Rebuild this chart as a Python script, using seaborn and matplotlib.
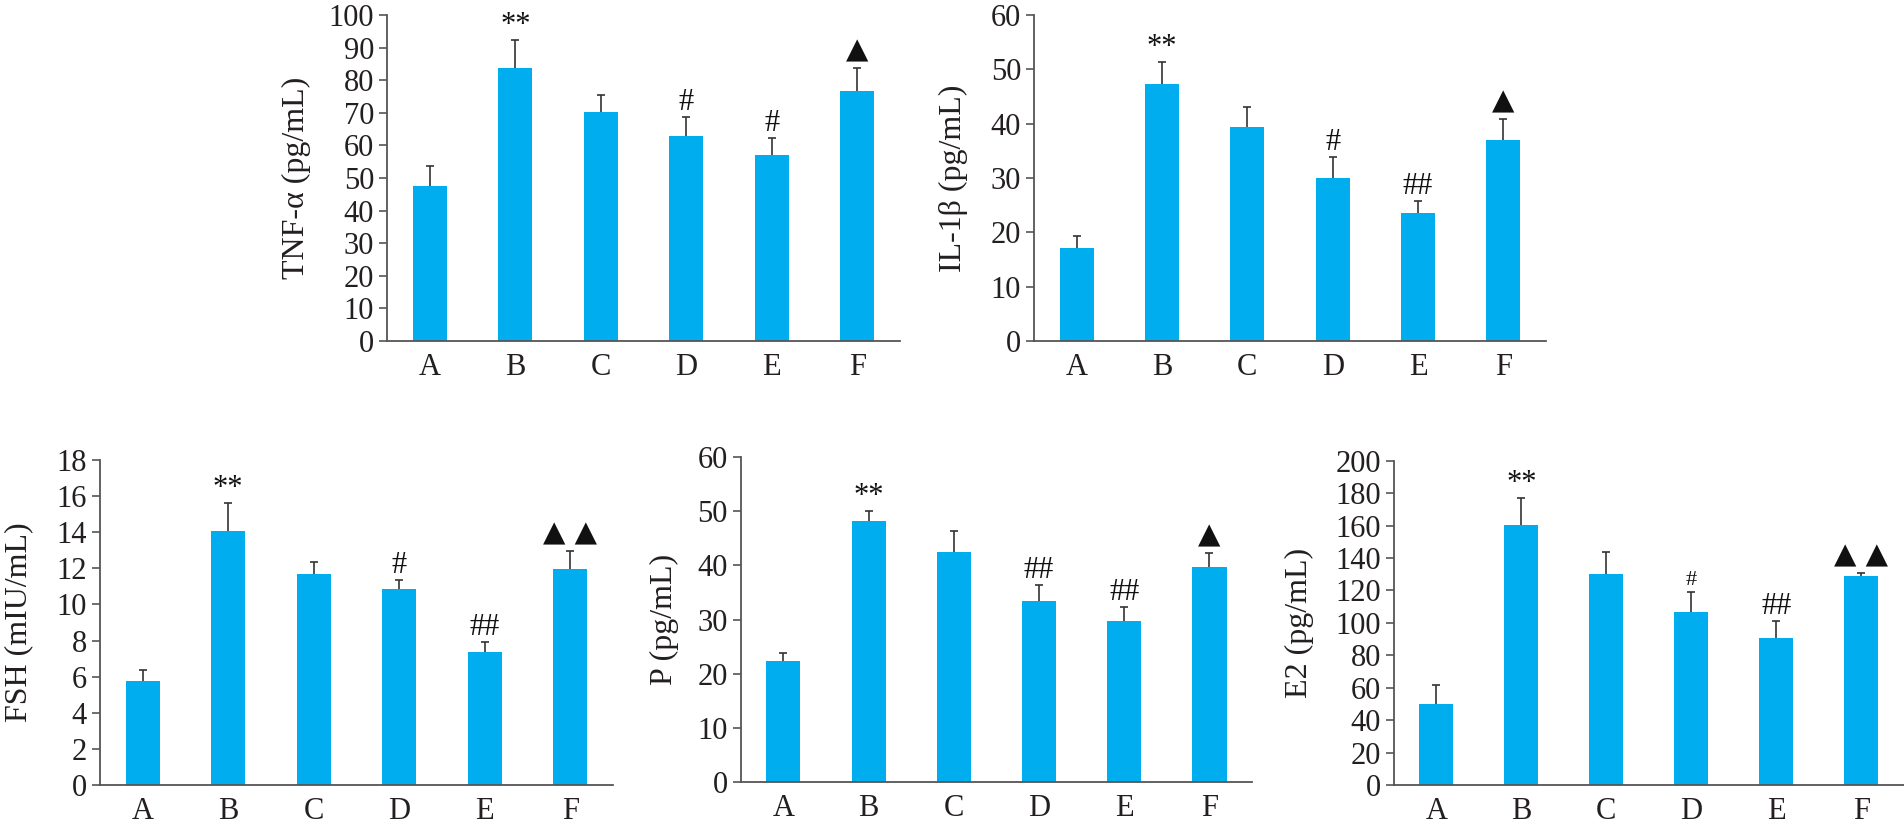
import numpy as np
import pandas as pd
import matplotlib
matplotlib.use("Agg")
import matplotlib.pyplot as plt
import seaborn as sns

# ---------------- data ----------------
groups = ["A", "B", "C", "D", "E", "F"]

tnf_mean = [47.4, 83.6, 70.3, 63.0, 56.9, 76.8]
tnf_sd = [6.3, 8.6, 5.3, 5.7, 5.3, 6.8]
tnf_marks = ["", "**", "", "#", "#", "▲"]

il1b_mean = [17.2, 47.3, 39.4, 30.0, 23.5, 36.9]
il1b_sd = [2.2, 4.1, 3.7, 3.8, 2.3, 4.0]
il1b_marks = ["", "**", "", "#", "##", "▲"]

fsh_mean = [5.74, 14.08, 11.70, 10.84, 7.38, 11.96]
fsh_sd = [0.63, 1.55, 0.63, 0.53, 0.56, 0.98]
fsh_marks = ["", "**", "", "#", "##", "▲ ▲"]

p_mean = [22.3, 48.2, 42.4, 33.4, 29.8, 39.8]
p_sd = [1.6, 1.9, 4.0, 3.0, 2.5, 2.5]
p_marks = ["", "**", "", "##", "##", "▲"]

e2_mean = [50.2, 160.5, 129.9, 106.5, 90.9, 128.6]
e2_sd = [11.7, 16.7, 14.0, 12.7, 10.3, 2.0]
e2_marks = ["", "**", "", "#", "##", "▲ ▲"]

# ---------------- style ----------------
sns.set_style("white")
plt.rcParams["font.family"] = ["Liberation Serif", "DejaVu Sans"]
plt.rcParams["axes.unicode_minus"] = False

BAR = "#00AEEF"
AXC = "#555555"
TXT = "#231F20"

fig = plt.figure(figsize=(19.04, 8.24), dpi=100)


def panel(rect, mean, sd, marks, ylabel, ymax, ystep, label_off_px, small_marks=()):
    ax = fig.add_axes(rect)
    df = pd.DataFrame({"group": groups, "value": mean})
    sns.barplot(data=df, x="group", y="value", color=BAR, saturation=1,
                width=0.4, edgecolor="none", linewidth=0, ax=ax, errorbar=None)
    eb = ax.errorbar(np.arange(len(groups)), mean,
                     yerr=[np.zeros(len(groups)), sd], fmt="none",
                     ecolor="#333333", elinewidth=1.2, capsize=2.6, capthick=1.2,
                     zorder=3)
    # keep only the upper cap
    eb[1][0].set_visible(False)
    ax.set_xlim(-0.5, len(groups) - 0.5)
    ax.set_ylim(0, ymax)
    ax.set_yticks(np.arange(0, ymax + ystep / 2, ystep))
    ax.set_xlabel("")
    ax.set_ylabel(ylabel, fontsize=23, color=TXT)
    width_px = rect[2] * fig.get_figwidth() * fig.dpi
    ax.yaxis.set_label_coords(-label_off_px / width_px, 0.5)
    for s in ["top", "right"]:
        ax.spines[s].set_visible(False)
    for s in ["left", "bottom"]:
        ax.spines[s].set_color(AXC)
        ax.spines[s].set_linewidth(1.3)
    ax.tick_params(axis="y", direction="out", length=5.8, width=1.2,
                   color=AXC, pad=3.5, labelsize=22, labelcolor=TXT, left=True)
    ax.tick_params(axis="x", length=0, pad=8.5, labelsize=22, labelcolor=TXT)
    for i, m in enumerate(marks):
        if not m:
            continue
        top = mean[i] + sd[i]
        if "▲" in m:
            fam, fs, off = ["DejaVu Sans"], 21, 7
        else:
            fam, fs, off = ["Liberation Serif"], (16 if i in small_marks else 22), 5
        ax.annotate(m, xy=(i, top), xytext=(0, off), textcoords="offset points",
                    ha="center", va="baseline", fontsize=fs, family=fam,
                    color="#111111")
    return ax


panel([0.2033, 0.5862, 0.2694, 0.3956], tnf_mean, tnf_sd, tnf_marks,
      "TNF-α (pg/mL)", 100, 10, 76)
panel([0.5431, 0.5862, 0.2689, 0.3956], il1b_mean, il1b_sd, il1b_marks,
      "IL-1β (pg/mL)", 60, 10, 66)
panel([0.0525, 0.0473, 0.2694, 0.3944], fsh_mean, fsh_sd, fsh_marks,
      "FSH (mIU/mL)", 18, 2, 67)
panel([0.3891, 0.0513, 0.2685, 0.3937], p_mean, p_sd, p_marks,
      "P (pg/mL)", 60, 10, 62)
panel([0.7320, 0.0473, 0.2680, 0.3936], e2_mean, e2_sd, e2_marks,
      "E2 (pg/mL)", 200, 20, 80, small_marks=(3,))

fig.savefig("out.png", dpi=100, facecolor="white")
